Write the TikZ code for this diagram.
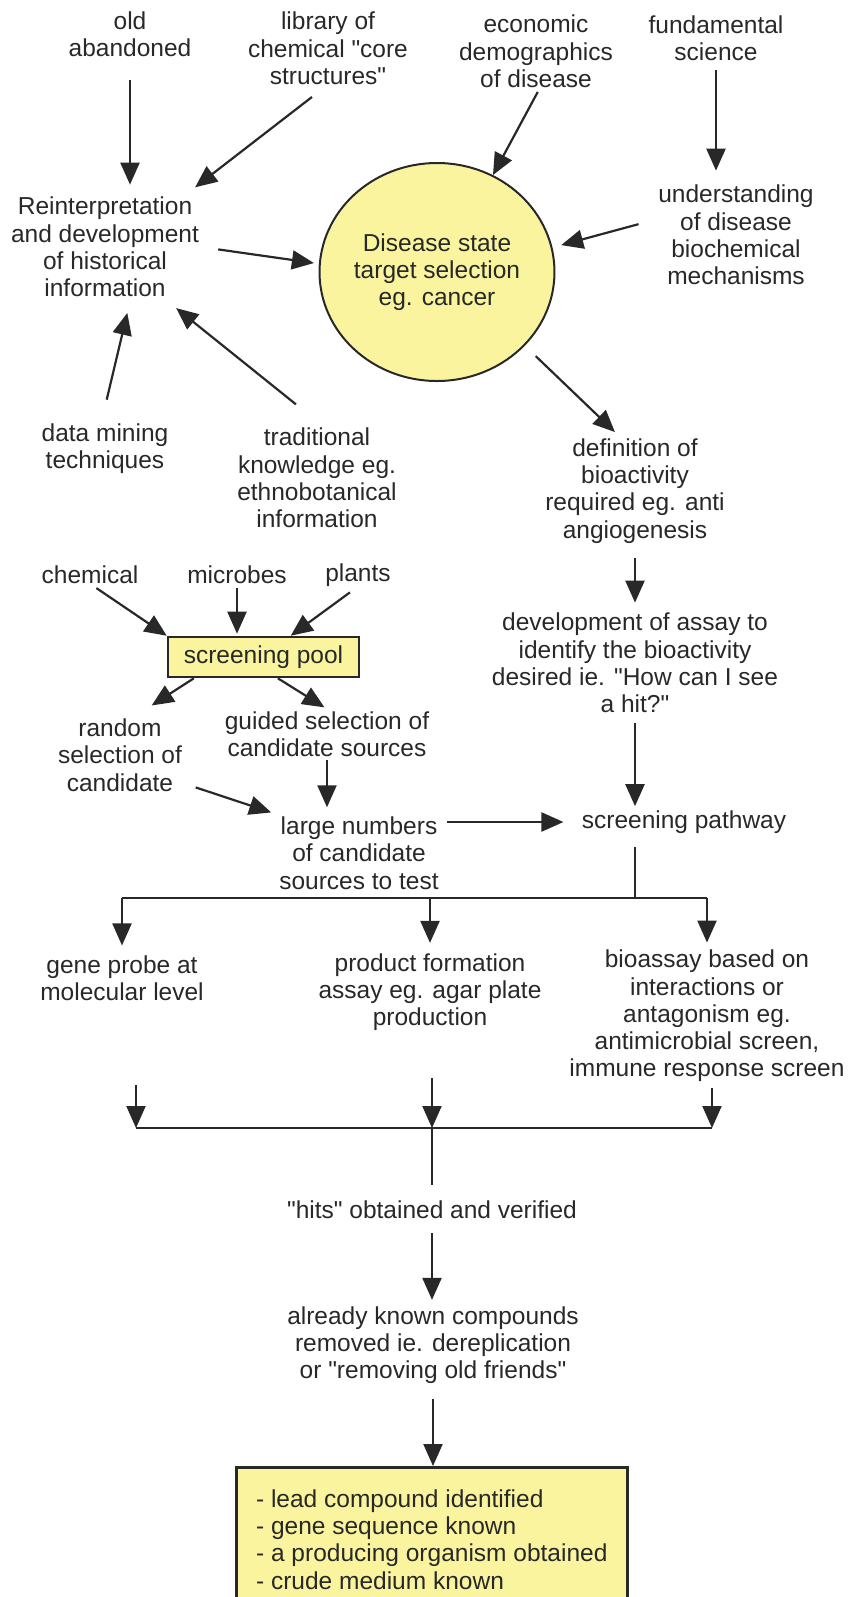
\documentclass[tikz,border=0pt]{standalone}
\usepackage{fontspec}
\setmainfont{Liberation Sans}
\usetikzlibrary{arrows.meta,shapes.geometric}
\definecolor{paleyellow}{RGB}{250,244,158}
\definecolor{inkgray}{RGB}{40,40,40}
\newcommand{\qq}{\textquotedbl{}}

\begin{document}
\begin{tikzpicture}[x=0.5pt,y=-0.5pt]

      \tikzset{txt/.style={align=center, inner sep=1pt, text=inkgray, font=\fontsize{12.25}{13.65}\selectfont},
               arr/.style={-{Triangle[length=11pt,width=9.5pt]}, line width=1.1pt, draw=inkgray},
               ln/.style={line width=1.1pt, draw=inkgray},
               yellowbox/.style={txt, draw=inkgray, fill=paleyellow, line width=1.3pt}}
      \useasboundingbox (0,0) rectangle (847,1597);
%% Nodes
      \node[txt] (old) at (130,34.5) {old\\abandoned};
      \node[txt] (lib) at (328,48.5) {library of\\chemical \qq core\\structures\qq};
      \node[txt] (econ) at (536,51.5) {economic\\demographics\\of disease};
      \node[txt] (fund) at (716,38) {fundamental\\science};
      \node[txt] (reint) at (105,247) {Reinterpretation\\and development\\of historical\\information};
      \node[txt, ellipse, draw=inkgray, fill=paleyellow, line width=1pt, minimum width=117pt, minimum height=109pt, inner sep=0pt] (disease) at (437,272) {Disease state\\target selection\\eg. cancer};
      \node[txt] (under) at (736,235) {understanding\\of disease\\biochemical\\mechanisms};
      \node[txt] (data) at (105,448.5) {data mining\\techniques};
      \node[txt] (trad) at (317,478) {traditional\\knowledge eg.\\ethnobotanical\\information};
      \node[txt] (def) at (635,491) {definition of\\bioactivity\\required eg. anti\\angiogenesis};
      \node[txt] (dev) at (635,663) {development of assay to\\identify the bioactivity\\desired ie. \qq How can I see\\a hit?\qq};
      \node[txt] (chem) at (90,575) {chemical};
      \node[txt] (microbes) at (237,575) {microbes};
      \node[txt] (plants) at (358,575) {plants};
      \node[yellowbox, minimum width=95.5pt, minimum height=20pt] (pool) at (263.5,657) {screening pool};
      \node[txt] (random) at (120,755) {random\\selection of\\candidate};
      \node[txt] (guided) at (327,734) {guided selection of\\candidate sources};
      \node[txt] (large) at (359,853) {large numbers\\of candidate\\sources to test};
      \node[txt] (pathway) at (684,822) {screening pathway};
      \node[txt] (gene) at (122,978.5) {gene probe at\\molecular level};
      \node[txt] (product) at (430,992) {product formation\\assay eg. agar plate\\production};
      \node[txt] (bio) at (707,1016) {bioassay based on\\interactions or\\antagonism eg.\\antimicrobial screen,\\immune response screen};
      \node[txt] (hits) at (432,1210) {\qq hits\qq\ obtained and verified};
      \node[txt] (known) at (433,1345) {already known compounds\\removed ie. dereplication\\or \qq removing old friends\qq};
      \node[yellowbox, align=left, anchor=north west, minimum width=195.5pt, minimum height=72pt] (lead) at (235,1466) {- lead compound identified\\- gene sequence known\\- a producing organism obtained\\- crude medium known};
%% Junctions
      \coordinate (fork) at (635,898);
      \coordinate (m1) at (136,1085);
      \coordinate (m2) at (432,1078);
      \coordinate (m3) at (712,1088);
      \coordinate (join) at (432,1128);
%Edges
      \draw [arr, shorten <=10pt, shorten >=5pt] (old.south) -- (old.south |- reint.north);
      \draw [arr, shorten <=8pt, shorten >=6pt] (lib.265) -- (reint.33);
      \draw [arr, shorten <=1pt] (econ.274) -- (disease.60);
      \draw [arr, shorten <=3.5pt, shorten >=6pt] (fund.south) -- (fund.south |- under.north);
      \draw [arr, shorten <=9pt, shorten >=4.5pt] (under.169) -- (disease.12);
      \draw [arr, shorten <=8.5pt, shorten >=2.5pt] (reint.east) -- (disease.176);
      \draw [arr, shorten <=11pt, shorten >=7pt] (data.97) -- (reint.-64);
      \draw [arr, shorten <=17pt, shorten >=7pt] (trad.84) -- (reint.-41);
      \draw [arr, shorten <=7.5pt, shorten >=3pt] (disease.-40) -- (def.106);
      \draw [arr, shorten <=6pt, shorten >=4pt] (def.south) -- (dev.north);
      \draw [arr, shorten <=4pt, shorten >=1pt] (dev.south) -- (dev.south |- pathway.north);
      \draw [arr, shorten <=1.5pt] (chem.-71) -- (pool.north west);
      \draw [arr, shorten <=1pt, shorten >=1pt] (microbes.south) -- (microbes.south |- pool.north);
      \draw [arr, shorten <=3pt] (plants.257) -- (pool.38);
      \draw [arr, shorten >=10pt] (pool.197) -- (random.69);
      \draw [arr, shorten >=1.5pt] (pool.-56) -- (guided.north);
      \draw [arr, shorten <=0.5pt, shorten >=3.5pt] (guided.south) -- (guided.south |- large.north);
      \draw [arr, shorten <=6pt, shorten >=3pt] (random.-24.5) -- (large.north west);
      \draw [arr, shorten <=3pt, shorten >=8pt] (large.east |- pathway.west) -- (pathway.west);
% split into the three assays
      \draw [ln, shorten <=5.5pt] (pathway.south -| fork) -- (fork);
      \draw [ln] (gene |- fork) -- (bio |- fork);
      \draw [arr, shorten >=4pt] (gene |- fork) -- (gene.north);
      \draw [arr, shorten >=4pt] (product |- fork) -- (product.north);
      \draw [arr, shorten >=2.5pt] (bio |- fork) -- (bio.north);
% merge
      \draw [arr] (m1) -- (m1 |- join);
      \draw [arr] (m2) -- (join);
      \draw [arr] (m3) -- (m3 |- join);
      \draw [ln] (m1 |- join) -- (m3 |- join);
      \draw [ln, shorten >=7pt] (join) -- (join |- hits.north);
      \draw [arr, shorten <=6pt, shorten >=2pt] (hits.south) -- (hits.south |- known.north);
      \draw [arr, shorten <=6.5pt] (known.south) -- (known.south |- lead.north);

\end{tikzpicture}
\end{document}
